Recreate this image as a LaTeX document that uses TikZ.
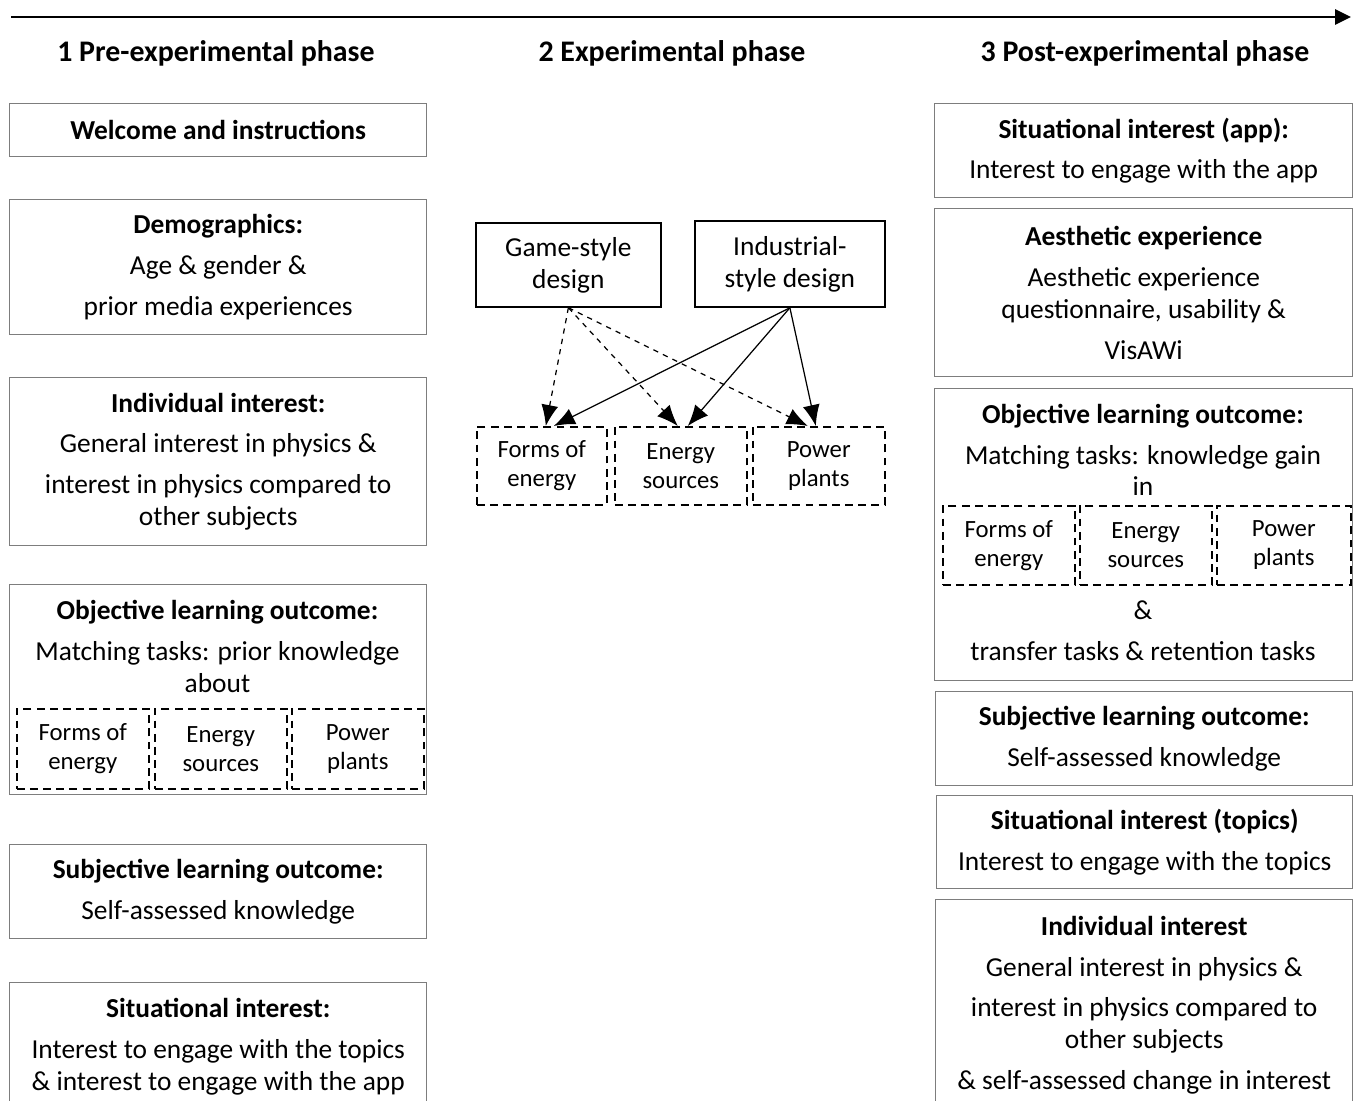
\documentclass[tikz,border=0pt]{standalone}
\usepackage{fontspec}
\setmainfont{Carlito}
\usetikzlibrary{arrows.meta,positioning,calc}
\definecolor{framegray}{RGB}{125,125,125}
\def\px{0.02cm}
\newcommand{\wrapline}{\\[-5.1pt]}

\tikzset{
  box/.style 2 args={draw=framegray, line width=0.8pt, align=center, inner sep=0pt,
    anchor=north west, minimum width=#1*\px, minimum height=#2*\px,
    font=\fontsize{15.6}{23.3}\selectfont},
  subbox/.style 2 args={draw, dash pattern=on 4.5pt off 3pt, line width=0.9pt, align=center,
    inner sep=0pt, anchor=north west, minimum width=#1*\px, minimum height=#2*\px,
    font=\fontsize{14.1}{16.5}\selectfont},
  design/.style 2 args={draw, line width=1pt, align=center, inner sep=0pt,
    anchor=north west, minimum width=#1*\px, minimum height=#2*\px,
    font=\fontsize{15.6}{18.2}\selectfont},
  phase/.style={font=\bfseries\fontsize{17}{19}\selectfont},
  boxtext/.style={align=center, inner sep=0pt, anchor=base, font=\fontsize{15.6}{23.3}\selectfont},
  link/.style={line width=0.7pt, -{Latex[length=0.42cm,width=0.34cm]}},
}

\begin{document}
\begin{tikzpicture}[x=0.02cm, y=-0.02cm]
  \useasboundingbox (0,0) rectangle (1356,1101);
  \clip (0,0) rectangle (1356,1101);

  % time line and phases
  \coordinate (tl) at (11,17);
  \coordinate (tr) at (1351,17);
  \draw[line width=1.7pt, -{Triangle[length=0.32cm,width=0.3cm]}] (tl) -- (tr);
  \node[phase] (pre) at (216,53) {1 Pre-experimental phase};
  \node[phase] (exp) at (672,53) {2 Experimental phase};
  \node[phase] (post) at (1145,53) {3 Post-experimental phase};

  % pre-experimental phase
  \node[box={417}{53}] (welcome) at (9,103) {\textbf{Welcome and instructions}};
  \node[box={417}{135}] (demo) at (9,199) {\textbf{Demographics:}\\Age \& gender \&\\prior media experiences};
  \node[box={417}{168}] (indivpre) at (9,377) {\textbf{Individual interest:}\\General interest in physics \&\\interest in physics compared to\wrapline other subjects};
  \node[box={417}{210}] (objpre) at (9,584) {};
  \node[boxtext] (objpretext) at (217.5,692) {\textbf{Objective learning outcome:}\\Matching tasks: prior knowledge\wrapline about};
  \node[subbox={132}{80}] (formspre) at (16,708) {Forms of\\energy};
  \node[subbox={132}{80}] (sourcespre) at (154,708) {Energy\\sources};
  \node[subbox={132}{80}] (plantspre) at (291,708) {Power\\plants};
  \node[box={417}{94}] (subjpre) at (9,844) {\textbf{Subjective learning outcome:}\\Self-assessed knowledge};
  \node[box={417}{128}] (situpre) at (9,982) {\textbf{Situational interest:}\\Interest to engage with the topics\wrapline \& interest to engage with the app};

  % experimental phase
  \node[design={185}{84}] (game) at (475,222) {Game-style\\design};
  \node[design={190}{86}] (indust) at (694,220) {Industrial-\\style design};
  \node[subbox={130}{78}] (forms) at (476,426) {Forms of\\energy};
  \node[subbox={132}{78}] (sources) at (614,426) {Energy\\sources};
  \node[subbox={132}{78}] (plants) at (752,426) {Power\\plants};
  \draw[link, dashed] (game.south) -- ([xshift=4*\px]forms.north);
  \draw[link, dashed] (game.south) -- ([xshift=-3*\px]sources.north);
  \draw[link, dashed] (game.south) -- ([xshift=-11*\px]plants.north);
  \draw[link] (indust.south) -- ([xshift=12*\px]forms.north);
  \draw[link] (indust.south) -- ([xshift=7*\px]sources.north);
  \draw[link] (indust.south) -- ([xshift=-3*\px]plants.north);

  % post-experimental phase
  \node[box={418}{94}] (situapp) at (934,103) {\textbf{Situational interest (app):}\\Interest to engage with the app};
  \node[box={418}{168}] (aesth) at (934,208) {\textbf{Aesthetic experience}\\Aesthetic experience\wrapline questionnaire, usability \&\\VisAWi};
  \node[box={418}{292}] (objpost) at (934,388) {};
  \node[boxtext] (objposttext) at (1143,496) {\textbf{Objective learning outcome:}\\Matching tasks: knowledge gain\wrapline in};
  \node[subbox={132}{79}] (formspost) at (942,505) {Forms of\\energy};
  \node[subbox={132}{79}] (sourcespost) at (1079,505) {Energy\\sources};
  \node[subbox={134}{79}] (plantspost) at (1216,505) {Power\\plants};
  \node[boxtext] (transfer) at (1143,660) {\&\\transfer tasks \& retention tasks};
  \node[box={417}{94}] (subjpost) at (935,691) {\textbf{Subjective learning outcome:}\\Self-assessed knowledge};
  \node[box={416}{93}] (situtop) at (936,795) {\textbf{Situational interest (topics)}\\Interest to engage with the topics};
  \node[box={417}{211}] (indivpost) at (935,899) {\textbf{Individual interest}\\General interest in physics \&\\interest in physics compared to\wrapline other subjects\\\& self-assessed change in interest};
\end{tikzpicture}
\end{document}
